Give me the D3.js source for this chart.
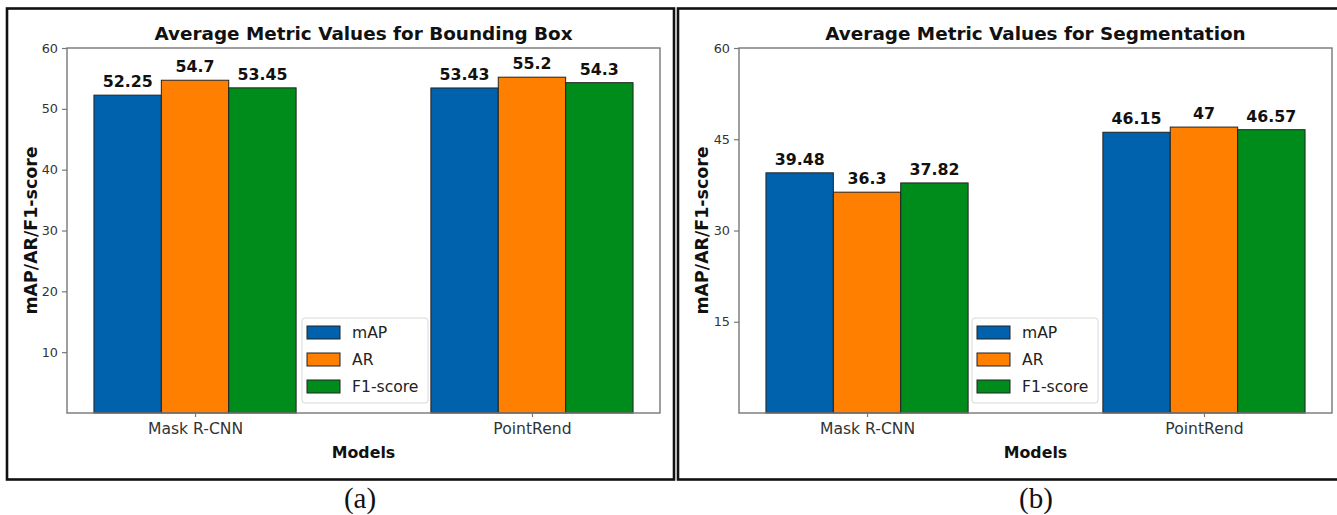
<!DOCTYPE html>
<html>
<head>
<meta charset="utf-8">
<script src="https://cdn.jsdelivr.net/npm/d3@7/dist/d3.min.js"></script>
<style>
  html, body { margin: 0; padding: 0; background: #fff; }
  svg { display: block; }
</style>
</head>
<body>
<svg id="fig" width="1337" height="515"></svg>
<script>
// Model groups and the three metrics plotted for each
const models = ["Mask R-CNN", "PointRend"];
const metrics = ["mAP", "AR", "F1-score"];
const metricColors = ["#0061ac", "#ff7f00", "#008c1a"];

// Bounding box results
const bboxMAP = [52.25, 53.43];
const bboxAR = [54.7, 55.2];
const bboxF1 = [53.45, 54.3];
const bboxTicks = [10, 20, 30, 40, 50, 60];

// Segmentation results
const segMAP = [39.48, 46.15];
const segAR = [36.3, 47];
const segF1 = [37.82, 46.57];
const segTicks = [15, 30, 45, 60];

const svg = d3.select("#fig");

const panels = [
  {
    title: "Average Metric Values for Bounding Box",
    caption: "(a)",
    captionX: 360,
    series: [bboxMAP, bboxAR, bboxF1],
    ticks: bboxTicks,
    frame: { x: 7, y: 8.5, w: 667, h: 471 },
    plot: { left: 67, right: 660, top: 48, bottom: 413 },
    ylabelX: 37,
    legendX: 302
  },
  {
    title: "Average Metric Values for Segmentation",
    caption: "(b)",
    captionX: 1036,
    series: [segMAP, segAR, segF1],
    ticks: segTicks,
    frame: { x: 678, y: 8.5, w: 675, h: 471 },
    plot: { left: 739, right: 1332, top: 48, bottom: 413 },
    ylabelX: 708,
    legendX: 972
  }
];

const barWidth = 0.2;

panels.forEach(p => {
  const g = svg.append("g");

  // Outer frame around each sub-figure
  g.append("rect")
    .attr("x", p.frame.x).attr("y", p.frame.y)
    .attr("width", p.frame.w).attr("height", p.frame.h)
    .attr("fill", "none").attr("stroke", "#111").attr("stroke-width", 2.6);

  const x = d3.scaleLinear().domain([-0.38, 1.38]).range([p.plot.left, p.plot.right]);
  const y = d3.scaleLinear().domain([0, 60]).range([p.plot.bottom, p.plot.top]);

  // Bars
  p.series.forEach((vals, si) => {
    const offset = (si - 1) * barWidth;
    g.append("g").selectAll("rect")
      .data(vals)
      .join("rect")
      .attr("x", (d, i) => x(i + offset - barWidth / 2))
      .attr("y", d => y(d))
      .attr("width", (d, i) => x(i + offset + barWidth / 2) - x(i + offset - barWidth / 2))
      .attr("height", d => y(0) - y(d))
      .attr("fill", metricColors[si])
      .attr("stroke", "#222")
      .attr("stroke-width", 1);

    // Value labels above each bar
    g.append("g").selectAll("text")
      .data(vals)
      .join("text")
      .attr("x", (d, i) => x(i + offset))
      .attr("y", d => y(d) - 8)
      .attr("text-anchor", "middle")
      .attr("font-family", "DejaVu Sans")
      .attr("font-weight", "bold")
      .attr("font-size", "15.8px")
      .attr("fill", "#111")
      .text(d => String(d));
  });

  // Axes box
  g.append("rect")
    .attr("x", p.plot.left).attr("y", p.plot.top)
    .attr("width", p.plot.right - p.plot.left)
    .attr("height", p.plot.bottom - p.plot.top)
    .attr("fill", "none").attr("stroke", "#777").attr("stroke-width", 1.4);

  // Y axis
  const yAxis = d3.axisLeft(y).tickValues(p.ticks).tickSize(5).tickPadding(4).tickFormat(d3.format("d"));
  const ya = g.append("g").attr("transform", `translate(${p.plot.left},0)`).call(yAxis);
  ya.select(".domain").remove();
  ya.selectAll(".tick line").attr("stroke", "#777").attr("stroke-width", 1.2);
  ya.selectAll(".tick text")
    .attr("font-family", "DejaVu Sans").attr("font-size", "12.8px").attr("fill", "#333");

  // X axis
  const xAxis = d3.axisBottom(x).tickValues([0, 1]).tickSize(4).tickPadding(6).tickFormat(i => models[i]);
  const xa = g.append("g").attr("transform", `translate(0,${p.plot.bottom})`).call(xAxis);
  xa.select(".domain").remove();
  xa.selectAll(".tick line").attr("stroke", "#777").attr("stroke-width", 1.2);
  xa.selectAll(".tick text")
    .attr("font-family", "DejaVu Sans").attr("font-size", "15.6px").attr("fill", "#333");

  const cx = (p.plot.left + p.plot.right) / 2;

  // Title
  g.append("text")
    .attr("x", cx).attr("y", 40)
    .attr("text-anchor", "middle")
    .attr("font-family", "DejaVu Sans").attr("font-weight", "bold")
    .attr("font-size", "18.4px").attr("fill", "#111")
    .text(p.title);

  // Axis labels
  g.append("text")
    .attr("x", cx).attr("y", 458)
    .attr("text-anchor", "middle")
    .attr("font-family", "DejaVu Sans").attr("font-weight", "bold")
    .attr("font-size", "15.8px").attr("fill", "#111")
    .text("Models");

  g.append("text")
    .attr("transform", `translate(${p.ylabelX},${(p.plot.top + p.plot.bottom) / 2}) rotate(-90)`)
    .attr("text-anchor", "middle")
    .attr("font-family", "DejaVu Sans").attr("font-weight", "bold")
    .attr("font-size", "17.4px").attr("fill", "#111")
    .text("mAP/AR/F1-score");

  // Legend
  const lg = g.append("g").attr("transform", `translate(${p.legendX},318)`);
  lg.append("rect")
    .attr("width", 126).attr("height", 85).attr("rx", 3)
    .attr("fill", "#fff").attr("fill-opacity", 0.85)
    .attr("stroke", "#d8d8d8").attr("stroke-width", 1);
  metrics.forEach((m, i) => {
    const row = lg.append("g").attr("transform", `translate(0,${14.5 + i * 27})`);
    row.append("rect")
      .attr("x", 5).attr("y", -6.5).attr("width", 33).attr("height", 13)
      .attr("fill", metricColors[i]).attr("stroke", "#222").attr("stroke-width", 1);
    row.append("text")
      .attr("x", 50).attr("y", 5.5)
      .attr("font-family", "DejaVu Sans").attr("font-size", "15.6px").attr("fill", "#222")
      .text(m);
  });

  // Sub-figure caption
  svg.append("text")
    .attr("x", p.captionX).attr("y", 508)
    .attr("text-anchor", "middle")
    .attr("font-family", "Liberation Serif").attr("font-size", "29px").attr("fill", "#111")
    .text(p.caption);
});
</script>
</body>
</html>
